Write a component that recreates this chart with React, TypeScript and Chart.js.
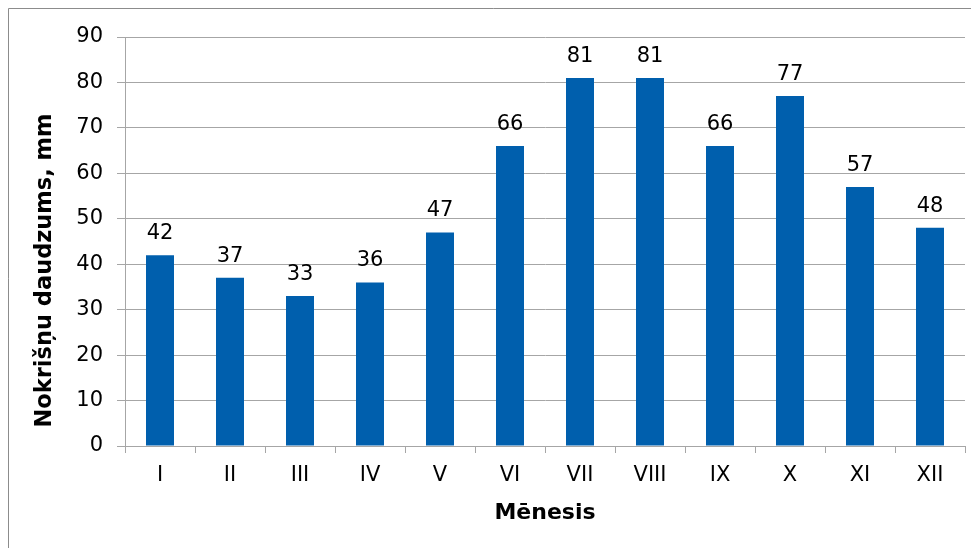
import React, { useEffect, useRef } from "react";
import { Chart, registerables } from "chart.js";

Chart.register(...registerables);

const months = ["I", "II", "III", "IV", "V", "VI", "VII", "VIII", "IX", "X", "XI", "XII"];
const precipitation = [42, 37, 33, 36, 47, 66, 81, 81, 66, 77, 57, 48];
const yTitle = "Nokrišņu daudzums, mm";
const xTitle = "Mēnesis";

const FONT = "'DejaVu Sans', sans-serif";

export default function App() {
  const ref = useRef<HTMLCanvasElement | null>(null);
  useEffect(() => {
    if (!ref.current) return;
    const frame = {
      id: "frame",
      beforeDraw(chart: any) {
        const c = chart.ctx;
        c.save();
        c.fillStyle = "#fff";
        c.fillRect(0, 0, chart.width, chart.height);
        c.strokeStyle = "#8c8c8c";
        c.lineWidth = 1;
        c.beginPath();
        c.moveTo(0.5, chart.height);
        c.lineTo(0.5, 0.5);
        c.lineTo(chart.width, 0.5);
        c.stroke();
        c.restore();
      },
    };
    const labels = {
      id: "valueLabels",
      afterDatasetsDraw(chart: any) {
        const c = chart.ctx;
        const meta = chart.getDatasetMeta(0);
        c.save();
        c.font = "21px " + FONT;
        c.fillStyle = "#000";
        c.textAlign = "center";
        c.textBaseline = "bottom";
        meta.data.forEach((el: any, i: number) => {
          c.fillText(String(precipitation[i]), el.x, el.y - 11);
        });
        // y axis title, placed as in the reference (centred lower than the plot)
        const yScale = chart.scales.y;
        const cy = (yScale.top + yScale.bottom) / 2 + 29;
        c.translate(37.5, cy);
        c.rotate(-Math.PI / 2);
        c.font = "bold 22.5px " + FONT;
        c.textBaseline = "middle";
        c.fillText(yTitle, 0, 0);
        c.restore();
      },
    };
    const chart = new Chart(ref.current, {
      type: "bar",
      data: {
        labels: months,
        datasets: [
          {
            data: precipitation,
            backgroundColor: "#005fad",
            barPercentage: 0.4,
            categoryPercentage: 1,
          },
        ],
      },
      options: {
        animation: false,
        responsive: false,
        layout: { padding: { top: 29, right: 14, left: 0, bottom: 0 } },
        plugins: { legend: { display: false }, tooltip: { enabled: false } },
        scales: {
          x: {
            grid: { display: true, drawOnChartArea: false, color: "#a6a6a6", tickLength: 7, offset: true },
            border: { color: "#a6a6a6" },
            ticks: { color: "#000", font: { family: FONT, size: 21 }, padding: 10, maxRotation: 0 },
            title: { display: true, text: xTitle, color: "#000", font: { family: FONT, size: 22, weight: "bold" }, padding: { top: 0, bottom: 22 } },
            afterFit(scale: any) { scale.height = 102; },
          },
          y: {
            min: 0,
            max: 90,
            ticks: { stepSize: 10, color: "#000", font: { family: FONT, size: 21 }, padding: 14 },
            grid: { color: "#a6a6a6", tickLength: 8 },
            border: { color: "#a6a6a6" },
            title: { display: false, text: yTitle },
            afterFit(scale: any) { scale.width = 117; },
          },
        },
      },
      plugins: [frame, labels],
    });
    return () => chart.destroy();
  }, []);
  return <canvas ref={ref} width={971} height={540} style={{ display: "block", width: 971, height: 540 }} />;
}
